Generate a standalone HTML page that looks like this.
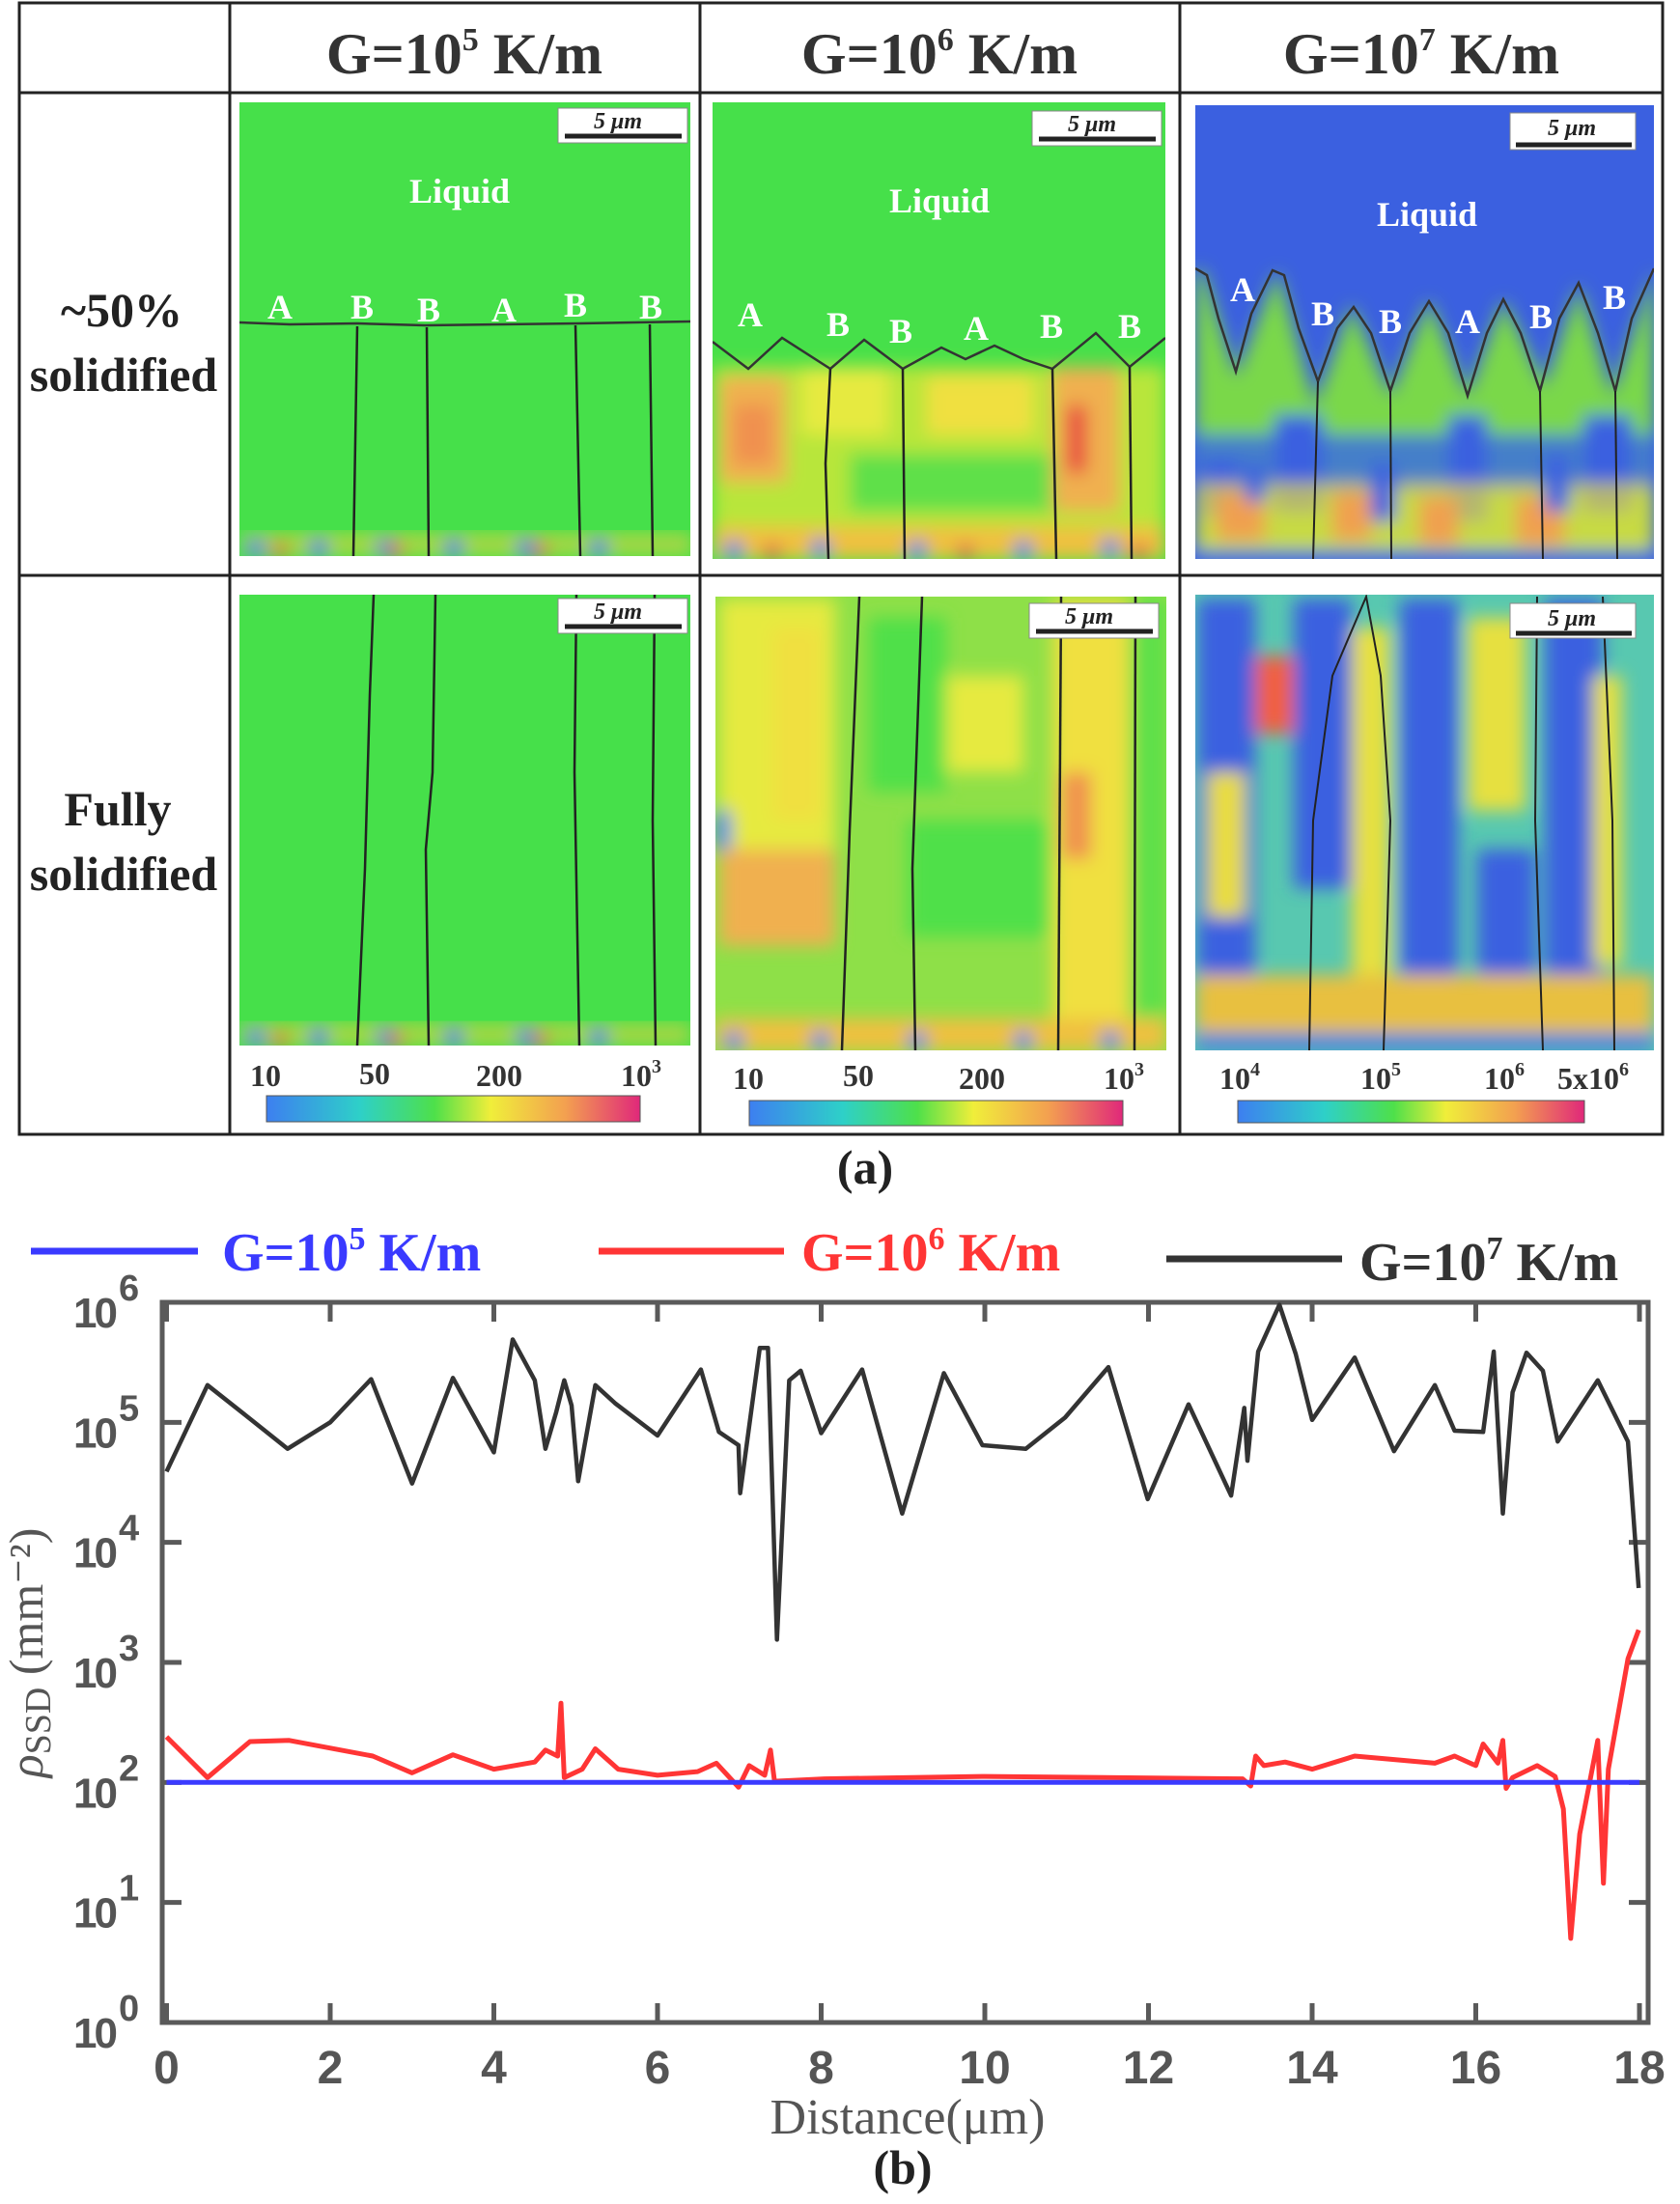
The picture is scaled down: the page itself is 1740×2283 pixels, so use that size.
<!DOCTYPE html>
<html><head><meta charset="utf-8">
<style>
html,body{margin:0;padding:0;background:#fff;}
svg{display:block;}
.hdr{font-family:"Liberation Serif",serif;font-weight:bold;font-size:60px;fill:#333;}
.rl{font-family:"Liberation Serif",serif;font-weight:bold;font-size:50px;fill:#222;}
.lbl{font-family:"Liberation Serif",serif;font-weight:bold;font-size:36px;fill:#fff;}
.sb{font-family:"Liberation Serif",serif;font-weight:bold;font-size:24px;fill:#222;font-style:italic;}
.cbt{font-family:"Liberation Serif",serif;font-weight:bold;font-size:32px;fill:#333;}
.tk{font-family:"Liberation Sans",sans-serif;font-weight:bold;font-size:48px;fill:#555;}
.ytk{font-family:"Liberation Sans",sans-serif;font-weight:bold;font-size:44px;fill:#555;letter-spacing:-3px;}
.lg{font-family:"Liberation Serif",serif;font-weight:bold;font-size:56px;}
</style></head>
<body>
<svg id="root" width="1740" height="2283" viewBox="0 0 1740 2283" xmlns="http://www.w3.org/2000/svg">
<defs>
  <filter id="blur" x="-10%" y="-10%" width="120%" height="120%"><feGaussianBlur stdDeviation="9"/></filter>
  <linearGradient id="jet" x1="0" x2="1" y1="0" y2="0">
    <stop offset="0" stop-color="#3d7ff0"/><stop offset="0.25" stop-color="#2ed0c8"/>
    <stop offset="0.45" stop-color="#4ee04a"/><stop offset="0.6" stop-color="#f0ee3a"/>
    <stop offset="0.8" stop-color="#f3a050"/><stop offset="1" stop-color="#e0287a"/>
  </linearGradient>
  <clipPath id="c11"><rect x="248" y="106" width="467" height="470"/></clipPath>
  <clipPath id="c12"><rect x="738" y="106" width="469" height="473"/></clipPath>
  <clipPath id="c13"><rect x="1238" y="109" width="475" height="470"/></clipPath>
  <clipPath id="c21"><rect x="248" y="616" width="467" height="467"/></clipPath>
  <clipPath id="c22"><rect x="741" y="618" width="467" height="470"/></clipPath>
  <clipPath id="c23"><rect x="1238" y="616" width="475" height="472"/></clipPath>
</defs>

<g stroke="#222" stroke-width="3" fill="none">
  <rect x="20" y="3" width="1702" height="1172"/>
  <line x1="238" y1="3" x2="238" y2="1175"/>
  <line x1="725" y1="3" x2="725" y2="1175"/>
  <line x1="1222" y1="3" x2="1222" y2="1175"/>
  <line x1="20" y1="96" x2="1722" y2="96"/>
  <line x1="20" y1="596" x2="1722" y2="596"/>
</g>
<text class="hdr" x="481" y="76" text-anchor="middle">G=10<tspan dy="-24" font-size="34">5</tspan><tspan dy="24"> K/m</tspan></text>
<text class="hdr" x="973" y="76" text-anchor="middle">G=10<tspan dy="-24" font-size="34">6</tspan><tspan dy="24"> K/m</tspan></text>
<text class="hdr" x="1472" y="76" text-anchor="middle">G=10<tspan dy="-24" font-size="34">7</tspan><tspan dy="24"> K/m</tspan></text>
<text class="rl" x="126" y="338" text-anchor="middle">~50%</text>
<text class="rl" x="128" y="405" text-anchor="middle">solidified</text>
<text class="rl" x="122" y="855" text-anchor="middle">Fully</text>
<text class="rl" x="128" y="922" text-anchor="middle">solidified</text>

<g clip-path="url(#c11)">
  <rect x="248" y="106" width="467" height="470" fill="#46e04a"/>
  <g filter="url(#blur)">
    <rect x="250" y="552" width="467" height="24" fill="#e8d040" opacity="0.6"/>
    <circle cx="265" cy="568" r="10" fill="#3d7ff0"/><circle cx="330" cy="568" r="10" fill="#3d7ff0"/>
    <circle cx="400" cy="568" r="10" fill="#3d7ff0"/><circle cx="470" cy="568" r="10" fill="#3d7ff0"/>
    <circle cx="545" cy="568" r="10" fill="#3d7ff0"/><circle cx="620" cy="568" r="10" fill="#3d7ff0"/>
    <circle cx="290" cy="570" r="8" fill="#f06040"/><circle cx="410" cy="570" r="8" fill="#f06040"/><circle cx="560" cy="570" r="8" fill="#f06040"/>
  </g>
  <path d="M248 334 L300 336 L370 335 L440 337 L520 336 L600 335 L715 333" stroke="#333" stroke-width="2.5" fill="none"/>
  <g stroke="#222" stroke-width="2.5" fill="none">
    <path d="M370 338 L366 576"/><path d="M442 339 L444 576"/><path d="M596 337 L601 576"/><path d="M673 336 L676 576"/>
  </g>
  <text class="lbl" x="476" y="210" text-anchor="middle">Liquid</text>
  <text class="lbl" x="290" y="330" text-anchor="middle">A</text><text class="lbl" x="375" y="330" text-anchor="middle">B</text>
  <text class="lbl" x="444" y="333" text-anchor="middle">B</text><text class="lbl" x="522" y="333" text-anchor="middle">A</text>
  <text class="lbl" x="596" y="328" text-anchor="middle">B</text><text class="lbl" x="674" y="330" text-anchor="middle">B</text>
  <rect x="578" y="112" width="134" height="36" fill="#fff" stroke="#888"/><line x1="585" y1="141" x2="706" y2="141" stroke="#222" stroke-width="5"/>
  <text class="sb" x="640" y="133" text-anchor="middle">5 μm</text>
</g>

<g clip-path="url(#c12)">
  <rect x="738" y="106" width="469" height="473" fill="#46e04a"/>
  <g filter="url(#blur)">
    <rect x="738" y="380" width="469" height="200" fill="#b8e63a"/>
    <rect x="745" y="390" width="70" height="110" fill="#f0b050"/>
    <rect x="760" y="420" width="40" height="60" fill="#f09050"/>
    <rect x="830" y="380" width="90" height="70" fill="#e6ea40"/>
    <rect x="880" y="470" width="220" height="60" fill="#5ee04a"/>
    <rect x="960" y="390" width="110" height="60" fill="#f0e040"/>
    <rect x="1090" y="380" width="70" height="150" fill="#f0b050"/>
    <rect x="1105" y="420" width="20" height="70" fill="#e84040"/>
    <rect x="738" y="545" width="469" height="34" fill="#f0c040"/>
    <circle cx="760" cy="570" r="10" fill="#3d7ff0"/><circle cx="850" cy="568" r="10" fill="#3d7ff0"/><circle cx="950" cy="570" r="10" fill="#3d7ff0"/><circle cx="1060" cy="570" r="10" fill="#3d7ff0"/><circle cx="1150" cy="568" r="10" fill="#3d7ff0"/>
    <circle cx="800" cy="572" r="8" fill="#e03050"/><circle cx="1000" cy="572" r="8" fill="#e03050"/><circle cx="1180" cy="572" r="8" fill="#e03050"/>
  </g>
  <path d="M738 354 L775 382 L810 350 L860 382 L895 352 L935 382 L975 360 L1000 372 L1030 358 L1060 372 L1090 382 L1135 345 L1170 380 L1207 350" stroke="#333" stroke-width="2.5" fill="none"/>
  <g stroke="#222" stroke-width="2.5" fill="none">
    <path d="M860 382 L855 480 L858 579"/><path d="M935 382 L937 579"/><path d="M1090 382 L1094 579"/><path d="M1170 380 L1172 579"/>
  </g>
  <text class="lbl" x="973" y="220" text-anchor="middle">Liquid</text>
  <text class="lbl" x="777" y="338" text-anchor="middle">A</text><text class="lbl" x="868" y="348" text-anchor="middle">B</text>
  <text class="lbl" x="933" y="355" text-anchor="middle">B</text><text class="lbl" x="1011" y="352" text-anchor="middle">A</text>
  <text class="lbl" x="1089" y="350" text-anchor="middle">B</text><text class="lbl" x="1170" y="350" text-anchor="middle">B</text>
  <rect x="1069" y="115" width="134" height="36" fill="#fff" stroke="#888"/><line x1="1076" y1="144" x2="1197" y2="144" stroke="#222" stroke-width="5"/>
  <text class="sb" x="1131" y="136" text-anchor="middle">5 μm</text>
</g>

<g clip-path="url(#c13)">
  <rect x="1238" y="109" width="475" height="470" fill="#3b60e0"/>
  <g filter="url(#blur)">
    <path d="M1238 280 L1246 280 L1280 390 L1323 280 L1362 420 L1400 315 L1440 410 L1480 310 L1520 410 L1557 310 L1600 400 L1635 295 L1670 410 L1713 280 L1713 579 L1238 579 Z" fill="#7ad848"/>
    <rect x="1238" y="450" width="475" height="60" fill="#3b70e0" opacity="0.85"/>
    <rect x="1245" y="475" width="40" height="60" fill="#3b60e0"/>
    <rect x="1320" y="430" width="50" height="100" fill="#3b60e0"/>
    <rect x="1500" y="430" width="40" height="110" fill="#3b60e0"/>
    <rect x="1640" y="430" width="50" height="100" fill="#3b60e0"/>
    <rect x="1238" y="500" width="475" height="79" fill="#e8dc40" opacity="0.7"/>
    <rect x="1260" y="510" width="50" height="50" fill="#f0a050"/><rect x="1380" y="510" width="40" height="50" fill="#f0a050"/>
    <rect x="1470" y="515" width="40" height="50" fill="#f0a050"/><rect x="1570" y="515" width="50" height="50" fill="#f0a050"/>
    <rect x="1290" y="480" width="20" height="40" fill="#3b60e0"/><rect x="1420" y="480" width="25" height="60" fill="#3b60e0"/><rect x="1600" y="470" width="25" height="60" fill="#3b60e0"/>
    <rect x="1238" y="570" width="475" height="9" fill="#3b80e0"/>
  </g>
  <path d="M1238 278 L1250 285 L1262 330 L1280 385 L1296 325 L1318 280 L1330 285 L1345 340 L1365 395 L1385 340 L1402 318 L1420 345 L1440 405 L1460 345 L1480 312 L1500 345 L1520 410 L1540 345 L1557 310 L1575 345 L1595 405 L1615 330 L1635 293 L1655 345 L1673 405 L1690 330 L1713 278" stroke="#333" stroke-width="2.5" fill="none"/>
  <g stroke="#222" stroke-width="2" fill="none">
    <path d="M1365 395 L1360 579"/><path d="M1440 405 L1441 579"/><path d="M1595 405 L1598 579"/><path d="M1673 405 L1675 579"/>
  </g>
  <text class="lbl" x="1478" y="234" text-anchor="middle">Liquid</text>
  <text class="lbl" x="1287" y="312" text-anchor="middle">A</text><text class="lbl" x="1370" y="337" text-anchor="middle">B</text>
  <text class="lbl" x="1440" y="345" text-anchor="middle">B</text><text class="lbl" x="1520" y="345" text-anchor="middle">A</text>
  <text class="lbl" x="1596" y="340" text-anchor="middle">B</text><text class="lbl" x="1672" y="320" text-anchor="middle">B</text>
  <rect x="1564" y="117" width="130" height="38" fill="#fff" stroke="#888"/><line x1="1570" y1="150" x2="1690" y2="150" stroke="#222" stroke-width="5"/>
  <text class="sb" x="1628" y="140" text-anchor="middle">5 μm</text>
</g>

<g clip-path="url(#c21)">
  <rect x="248" y="616" width="467" height="467" fill="#46e04a"/>
  <g filter="url(#blur)">
    <rect x="248" y="1060" width="467" height="23" fill="#e8d040" opacity="0.6"/>
    <circle cx="265" cy="1075" r="10" fill="#3d7ff0"/><circle cx="330" cy="1075" r="10" fill="#3d7ff0"/>
    <circle cx="400" cy="1075" r="10" fill="#3d7ff0"/><circle cx="470" cy="1075" r="10" fill="#3d7ff0"/>
    <circle cx="545" cy="1075" r="10" fill="#3d7ff0"/><circle cx="620" cy="1075" r="10" fill="#3d7ff0"/>
    <circle cx="290" cy="1077" r="8" fill="#f06040"/><circle cx="410" cy="1077" r="8" fill="#f06040"/><circle cx="560" cy="1077" r="8" fill="#f06040"/>
  </g>
  <g stroke="#222" stroke-width="2.5" fill="none">
    <path d="M387 616 L383 720 L378 900 L370 1083"/><path d="M451 616 L448 800 L441 880 L444 1083"/><path d="M597 616 L595 800 L600 1083"/><path d="M678 616 L676 850 L679 1083"/>
  </g>
  <rect x="578" y="620" width="134" height="36" fill="#fff" stroke="#888"/><line x1="585" y1="649" x2="706" y2="649" stroke="#222" stroke-width="5"/>
  <text class="sb" x="640" y="641" text-anchor="middle">5 μm</text>
</g>

<g clip-path="url(#c22)">
  <rect x="741" y="618" width="467" height="470" fill="#8ee048"/>
  <g filter="url(#blur)">
    <rect x="745" y="620" width="120" height="300" fill="#e6ea40"/>
    <rect x="800" y="650" width="50" height="200" fill="#f0e040"/>
    <rect x="745" y="880" width="120" height="100" fill="#f0b050"/>
    <rect x="900" y="640" width="80" height="180" fill="#50e04a"/>
    <rect x="980" y="700" width="80" height="100" fill="#e6ea40"/>
    <rect x="940" y="850" width="160" height="120" fill="#50e04a"/>
    <rect x="1090" y="620" width="80" height="468" fill="#f0e040"/>
    <rect x="1100" y="800" width="30" height="90" fill="#f09050"/>
    <rect x="1170" y="620" width="40" height="468" fill="#5ee04a"/>
    <rect x="741" y="840" width="16" height="40" fill="#3d7ff0"/>
    <rect x="741" y="1055" width="467" height="33" fill="#f0c040"/>
    <circle cx="760" cy="1078" r="10" fill="#3d7ff0"/><circle cx="850" cy="1078" r="10" fill="#3d7ff0"/><circle cx="950" cy="1078" r="10" fill="#3d7ff0"/><circle cx="1060" cy="1078" r="10" fill="#3d7ff0"/><circle cx="1150" cy="1078" r="10" fill="#3d7ff0"/>
  </g>
  <g stroke="#222" stroke-width="2.5" fill="none">
    <path d="M890 618 L880 860 L872 1088"/><path d="M955 618 L945 900 L948 1088"/><path d="M1099 618 L1096 1088"/><path d="M1176 618 L1175 1088"/>
  </g>
  <rect x="1066" y="625" width="134" height="36" fill="#fff" stroke="#888"/><line x1="1073" y1="654" x2="1194" y2="654" stroke="#222" stroke-width="5"/>
  <text class="sb" x="1128" y="646" text-anchor="middle">5 μm</text>
</g>

<g clip-path="url(#c23)">
  <rect x="1238" y="616" width="475" height="472" fill="#58c8b0"/>
  <g filter="url(#blur)">
    <rect x="1240" y="620" width="60" height="400" fill="#3b60e0"/>
    <rect x="1300" y="680" width="50" height="80" fill="#f06040"/>
    <rect x="1250" y="800" width="40" height="150" fill="#e8dc40"/>
    <rect x="1340" y="620" width="60" height="300" fill="#3b60e0"/>
    <rect x="1400" y="650" width="40" height="420" fill="#e6e040"/>
    <rect x="1450" y="620" width="60" height="440" fill="#3b60e0"/>
    <rect x="1520" y="640" width="60" height="200" fill="#e6e040"/>
    <rect x="1530" y="880" width="60" height="150" fill="#3b60e0"/>
    <rect x="1600" y="620" width="60" height="460" fill="#3b60e0"/>
    <rect x="1650" y="700" width="30" height="300" fill="#e6e040"/>
    <rect x="1238" y="1010" width="475" height="60" fill="#e8c040"/>
    <rect x="1238" y="1070" width="475" height="18" fill="#3b80e0"/>
  </g>
  <g stroke="#222" stroke-width="2" fill="none">
    <path d="M1356 1088 L1360 850 L1380 700 L1415 618 L1430 700 L1440 850 L1433 1088"/>
    <path d="M1592 618 L1590 850 L1598 1088"/><path d="M1660 618 L1670 850 L1672 1088"/>
  </g>
  <rect x="1564" y="625" width="130" height="36" fill="#fff" stroke="#888"/><line x1="1570" y1="656" x2="1690" y2="656" stroke="#222" stroke-width="5"/>
  <text class="sb" x="1628" y="648" text-anchor="middle">5 μm</text>
</g>

<g>
  <rect x="276" y="1135" width="387" height="27" fill="url(#jet)" stroke="#555"/>
  <text class="cbt" x="275" y="1125" text-anchor="middle">10</text><text class="cbt" x="388" y="1123" text-anchor="middle">50</text>
  <text class="cbt" x="517" y="1125" text-anchor="middle">200</text><text class="cbt" x="664" y="1125" text-anchor="middle">10<tspan dy="-14" font-size="20">3</tspan></text>
</g>
<g>
  <rect x="776" y="1140" width="387" height="26" fill="url(#jet)" stroke="#555"/>
  <text class="cbt" x="775" y="1128" text-anchor="middle">10</text><text class="cbt" x="889" y="1125" text-anchor="middle">50</text>
  <text class="cbt" x="1017" y="1128" text-anchor="middle">200</text><text class="cbt" x="1164" y="1128" text-anchor="middle">10<tspan dy="-14" font-size="20">3</tspan></text>
</g>
<g>
  <rect x="1282" y="1140" width="359" height="23" fill="url(#jet)" stroke="#555"/>
  <text class="cbt" x="1284" y="1128" text-anchor="middle">10<tspan dy="-14" font-size="20">4</tspan></text>
  <text class="cbt" x="1430" y="1128" text-anchor="middle">10<tspan dy="-14" font-size="20">5</tspan></text>
  <text class="cbt" x="1558" y="1128" text-anchor="middle">10<tspan dy="-14" font-size="20">6</tspan></text>
  <text class="cbt" x="1650" y="1128" text-anchor="middle">5x10<tspan dy="-14" font-size="20">6</tspan></text>
</g>
<text class="rl" x="896" y="1226" text-anchor="middle" font-size="46">(a)</text>

<g>
  <line x1="32" y1="1296" x2="205" y2="1296" stroke="#3a3aff" stroke-width="7"/>
  <text class="lg" x="230" y="1316" fill="#3a3aff">G=10<tspan dy="-22" font-size="34">5</tspan><tspan dy="22"> K/m</tspan></text>
  <line x1="620" y1="1296" x2="812" y2="1296" stroke="#ff3535" stroke-width="7"/>
  <text class="lg" x="830" y="1316" fill="#ff3535">G=10<tspan dy="-22" font-size="34">6</tspan><tspan dy="22"> K/m</tspan></text>
  <line x1="1208" y1="1304" x2="1390" y2="1304" stroke="#333" stroke-width="7"/>
  <text class="lg" x="1408" y="1326" fill="#333">G=10<tspan dy="-22" font-size="34">7</tspan><tspan dy="22"> K/m</tspan></text>
</g>

<g id="chart"></g>
<text class="rl" x="935" y="2262" text-anchor="middle" font-size="46">(b)</text>
</svg>

<script>
const xTicks = [0,2,4,6,8,10,12,14,16,18];
const yTickExps = [0,1,2,3,4,5,6];
const blueX = [0, 18];
const blueY = [100, 100];
const redX = [0,0.5,1.02,1.5,2.52,3.0,3.5,4.0,4.5,4.63,4.78,4.82,4.86,5.08,5.24,5.52,6.0,6.49,6.72,6.99,7.12,7.31,7.38,7.43,8.04,10.0,13.15,13.25,13.31,13.41,13.67,14.0,14.52,15.5,15.74,16.0,16.09,16.27,16.33,16.37,16.45,16.75,16.97,17.07,17.16,17.27,17.49,17.56,17.62,17.86,17.99];
const redLog = [2.38,2.04,2.34,2.35,2.22,2.08,2.23,2.11,2.17,2.27,2.22,2.66,2.04,2.11,2.28,2.11,2.06,2.09,2.16,1.96,2.14,2.06,2.27,2.01,2.03,2.05,2.03,1.97,2.22,2.14,2.17,2.11,2.22,2.16,2.22,2.14,2.32,2.16,2.35,1.95,2.04,2.14,2.05,1.78,0.70,1.57,2.35,1.16,2.11,3.03,3.27];
const blackX = [0,0.5,1.02,1.48,2.0,2.5,3.0,3.5,4.0,4.23,4.5,4.63,4.76,4.86,4.95,5.03,5.24,5.48,6.0,6.53,6.75,6.99,7.01,7.25,7.35,7.46,7.61,7.75,8.0,8.5,8.99,9.5,9.97,10.5,10.98,11.51,11.99,12.49,13.01,13.17,13.21,13.34,13.6,13.8,14.0,14.52,15.0,15.5,15.74,16.09,16.22,16.33,16.45,16.62,16.82,17.0,17.49,17.86,17.99];
const blackLog = [4.59,5.31,5.03,4.78,5.0,5.36,4.49,5.37,4.75,5.69,5.35,4.78,5.08,5.35,5.14,4.51,5.31,5.16,4.89,5.44,4.92,4.81,4.41,5.62,5.62,3.19,5.35,5.43,4.91,5.44,4.24,5.41,4.81,4.78,5.04,5.46,4.36,5.15,4.39,5.12,4.68,5.59,5.98,5.57,5.02,5.54,4.76,5.31,4.93,4.92,5.59,4.24,5.25,5.58,5.43,4.84,5.35,4.84,3.62];

const NS = 'http://www.w3.org/2000/svg';
const chart = document.getElementById('chart');
const X0 = 172.5, XS = 84.75, YTOP = 1349, DEC = 124.33;
const L = 168, R = 1707, T = 1349, B = 2095;
function xScale(v){ return X0 + XS * v; }
function yScale(val){ return YTOP + (6 - Math.log10(val)) * DEC; }
function yLog(l){ return YTOP + (6 - l) * DEC; }
function mk(tag, attrs){ const e = document.createElementNS(NS, tag); for (const k in attrs) e.setAttribute(k, attrs[k]); return e; }

const box = mk('rect', {x:L, y:T, width:R-L, height:B-T, fill:'none', stroke:'#5a5a5a', 'stroke-width':5});


chart.appendChild(box);

xTicks.forEach(v => {
  const x = xScale(v);
  const t1 = mk('line', {x1:x, y1:B, x2:x, y2:B-20, stroke:'#5a5a5a', 'stroke-width':5});
  
  
  chart.appendChild(t1);
  const t2 = mk('line', {x1:x, y1:T, x2:x, y2:T+20, stroke:'#5a5a5a', 'stroke-width':5});
  
  
  chart.appendChild(t2);
  const lb = mk('text', {x:x, y:2158, 'text-anchor':'middle', class:'tk'});
  lb.textContent = v;
  
  
  chart.appendChild(lb);
});
yTickExps.forEach(e => {
  const y = yLog(e);
  const t1 = mk('line', {x1:L, y1:y, x2:L+20, y2:y, stroke:'#5a5a5a', 'stroke-width':5});
  
  
  chart.appendChild(t1);
  const t2 = mk('line', {x1:R, y1:y, x2:R-20, y2:y, stroke:'#5a5a5a', 'stroke-width':5});
  
  
  chart.appendChild(t2);
  const lb = mk('text', {x:76, y:y+26, class:'ytk'});
  lb.textContent = '10';
  
  
  const sp = mk('tspan', {dx:4, dy:-28, 'font-size':38});
  sp.textContent = e;
  lb.appendChild(sp);
  chart.appendChild(lb);
});

function series(xs, ys, color, name, isLog, w){
  const d = xs.map((v,i) => (i?'L':'M') + xScale(v).toFixed(1) + ' ' + (isLog ? yLog(ys[i]) : yScale(ys[i])).toFixed(1)).join(' ');
  const p = mk('path', {d:d, fill:'none', stroke:color, 'stroke-width':w, 'stroke-linejoin':'round'});
  
  
  chart.appendChild(p);
}
series(blackX, blackLog, '#333333', 'series-g1e7', true, 4.5);
series(redX, redLog, '#ff3535', 'series-g1e6', true, 5);
series(blueX, blueY, '#3a3aff', 'series-g1e5', false, 5);

const xt = mk('text', {x:940, y:2210, 'text-anchor':'middle', 'font-family':'Liberation Serif, serif', 'font-size':52, fill:'#555'});
xt.textContent = 'Distance(μm)';


chart.appendChild(xt);
const yt = mk('text', {x:0, y:0, 'text-anchor':'middle', 'font-family':'Liberation Serif, serif', 'font-size':50, fill:'#555', transform:'translate(44,1712) rotate(-90)'});


const rho = mk('tspan', {'font-style':'italic'}); rho.textContent = 'ρ';
const sub = mk('tspan', {'font-size':38, dy:8}); sub.textContent = 'SSD';
const unit = mk('tspan', {dy:-8}); unit.textContent = ' (mm⁻²)';
yt.appendChild(rho); yt.appendChild(sub); yt.appendChild(unit);
chart.appendChild(yt);
</script>
</body></html>
